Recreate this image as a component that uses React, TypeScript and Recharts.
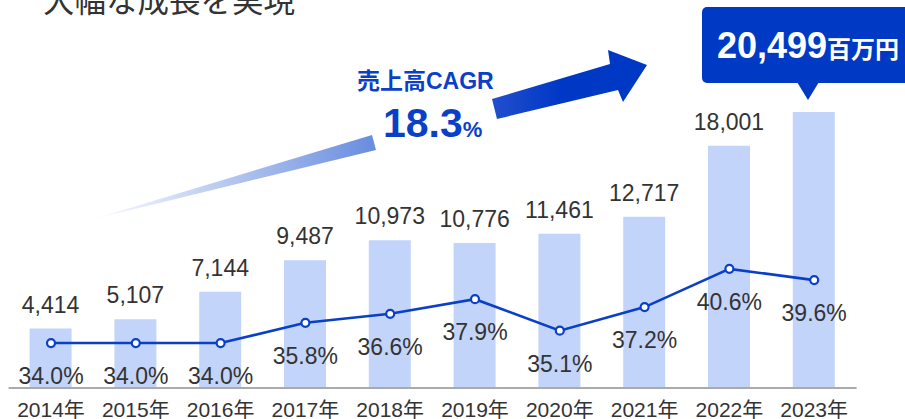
import { ComposedChart, Bar, Line, XAxis, YAxis, LabelList } from 'recharts'

const years = ['2014年', '2015年', '2016年', '2017年', '2018年', '2019年', '2020年', '2021年', '2022年', '2023年']
const sales = [4414, 5107, 7144, 9487, 10973, 10776, 11461, 12717, 18001, 20499]
const ratio = [34.0, 34.0, 34.0, 35.8, 36.6, 37.9, 35.1, 37.2, 40.6, 39.6]

const title = '大幅な成長を実現'
const cagrLabel = '売上高CAGR'
const cagrValue = '18.3'

const data = years.map((year, i) => ({ year, sales: sales[i], ratio: ratio[i] }))

const FONT = '"Liberation Sans", Arial, "Noto Sans CJK JP", sans-serif'
const BLUE = '#0a3fc8'
const TEXT = '#333333'

const XTick = (props: any) => {
  const { x, y, payload } = props
  return (
    <text x={x} y={y} dy={21} textAnchor="middle" fill={TEXT} fontSize={21} fontFamily={FONT}>
      {payload.value}
    </text>
  )
}

// 最終年の数値は吹き出しで表示するので棒の上には出さない
const SalesLabel = (props: any) => {
  const { x, y, width, value, index } = props
  if (index === sales.length - 1) return null
  return (
    <text x={x + width / 2} y={y - 16} textAnchor="middle" fill={TEXT} fontSize={23} fontFamily={FONT}>
      {Number(value).toLocaleString('en-US')}
    </text>
  )
}

const RatioLabel = (props: any) => {
  const { x, y, value } = props
  return (
    <text x={x} y={y + 41} textAnchor="middle" fill={TEXT} fontSize={23} fontFamily={FONT}>
      {Number(value).toFixed(1)}%
    </text>
  )
}

export default function App() {
  const latest = sales[sales.length - 1]
  return (
    <div style={{ position: 'absolute', left: 0, top: 0, width: 905, height: 419, overflow: 'hidden', background: '#fff' }}>
      <ComposedChart
        width={905}
        height={419}
        data={data}
        margin={{ top: 20, right: 48.4, bottom: 0, left: 8.6 }}
      >
        <XAxis
          dataKey="year"
          height={31}
          tickLine={false}
          axisLine={{ stroke: '#aaaaaa', strokeWidth: 2 }}
          tick={<XTick />}
          interval={0}
        />
        <YAxis yAxisId="sales" hide domain={[0, 27340]} />
        <YAxis yAxisId="ratio" hide orientation="right" domain={[30, 62.74]} />
        <Bar yAxisId="sales" dataKey="sales" fill="#c3d4fb" barSize={42} isAnimationActive={false}>
          <LabelList dataKey="sales" content={<SalesLabel />} />
        </Bar>
        <Line
          yAxisId="ratio"
          dataKey="ratio"
          type="linear"
          stroke={BLUE}
          strokeWidth={2.6}
          dot={{ r: 4, fill: '#fff', stroke: BLUE, strokeWidth: 2.2 }}
          activeDot={false}
          isAnimationActive={false}
        >
          <LabelList dataKey="ratio" content={<RatioLabel />} />
        </Line>
      </ComposedChart>

      {/* 注記レイヤー */}
      <svg width={905} height={419} style={{ position: 'absolute', left: 0, top: 0, pointerEvents: 'none' }}>
        <defs>
          <linearGradient id="cagrGrad" gradientUnits="userSpaceOnUse" x1={90} y1={0} x2={600} y2={0}>
            <stop offset="0" stopColor="#ffffff" />
            <stop offset="0.55" stopColor="#6a8ee0" />
            <stop offset="0.78" stopColor="#2550cd" />
            <stop offset="0.92" stopColor="#0038c6" />
          </linearGradient>
        </defs>
        <text x={43} y={12} fontSize={31.5} fill={TEXT} fontFamily={FONT}>{title}</text>

        <polygon points="90,220 372,135 376,150" fill="url(#cagrGrad)" />
        <polygon points="492,99 610,64 608,50 647,65 623,102 618,90 497,119" fill="url(#cagrGrad)" />

        <text x={357} y={89} fontSize={23} fontWeight="bold" fill={BLUE} fontFamily={FONT}>{cagrLabel}</text>
        <text x={383} y={137} fontFamily={FONT} fontWeight="bold" fill={BLUE}>
          <tspan fontSize={41}>{cagrValue}</tspan>
          <tspan fontSize={22}>%</tspan>
        </text>

        <rect x={702} y={7} width={215} height={76} rx={5} fill="#0039c4" />
        <polygon points="797,82 819,82 808,100" fill="#0039c4" />
        <text x={717} y={58} fontFamily={FONT} fontWeight="bold" fill="#fff">
          <tspan fontSize={36}>{latest.toLocaleString('en-US')}</tspan>
          <tspan fontSize={24}>百万円</tspan>
        </text>
      </svg>
    </div>
  )
}
